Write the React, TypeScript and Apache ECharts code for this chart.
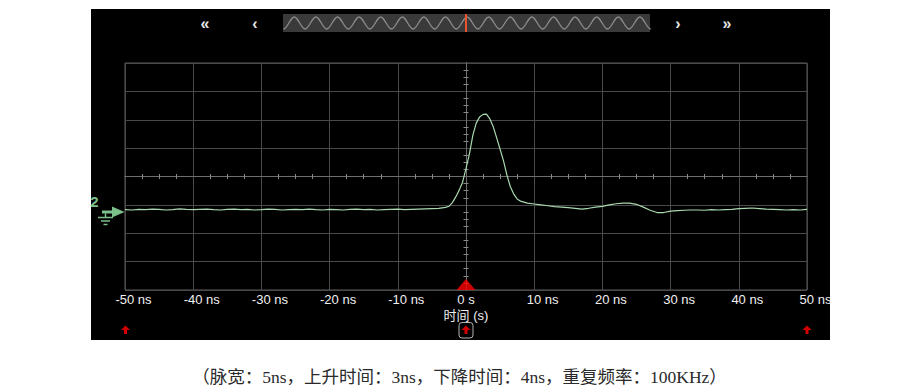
import React, { useEffect, useRef } from "react";
import * as echarts from "echarts";

// time axis (ns) of the captured trace
const timeNs = [
  -50, -49, -48, -47, -46, -45, -44, -43, -42, -41,
  -40, -39, -38, -37, -36, -35, -34, -33, -32, -31,
  -30, -29, -28, -27, -26, -25, -24, -23, -22, -21,
  -20, -19, -18, -17, -16, -15, -14, -13, -12, -11,
  -10, -9, -8, -7, -6, -5, -4, -3, -2.5, -2,
  -1.5, -1, -0.5, 0, 0.5, 1, 1.5, 2, 2.5, 3,
  3.5, 4, 4.5, 5, 5.5, 6, 6.5, 7, 7.5, 8,
  9, 10, 11, 12, 13, 14, 15, 16, 17, 18,
  19, 20, 21, 22, 23, 24, 25, 26, 27, 28,
  29, 30, 31, 32, 33, 34, 35, 36, 37, 38,
  39, 40, 41, 42, 43, 44, 45, 46, 47, 48,
  49, 50,
];

// trace amplitude in vertical divisions
const traceDiv = [
  -1.17, -1.18, -1.16, -1.17, -1.15, -1.16, -1.18, -1.17, -1.14, -1.16,
  -1.17, -1.16, -1.15, -1.17, -1.18, -1.16, -1.15, -1.17, -1.16, -1.18,
  -1.17, -1.15, -1.16, -1.18, -1.17, -1.16, -1.17, -1.15, -1.17, -1.18,
  -1.16, -1.17, -1.18, -1.16, -1.15, -1.17, -1.16, -1.18, -1.17, -1.16,
  -1.15, -1.17, -1.16, -1.15, -1.14, -1.13, -1.12, -1.09, -1.05, -0.92,
  -0.72, -0.48, -0.2, 0.28, 0.8, 1.45, 1.88, 2.1, 2.19, 2.2,
  2.03, 1.75, 1.36, 0.96, 0.55, 0.05, -0.36, -0.62, -0.79, -0.87,
  -0.94, -0.97, -1.0, -1.03, -1.06, -1.08, -1.1, -1.12, -1.15, -1.12,
  -1.08, -1.05, -1.0, -0.96, -0.94, -0.94, -0.98, -1.08, -1.19, -1.27,
  -1.27, -1.22, -1.2, -1.19, -1.18, -1.18, -1.19, -1.17, -1.18, -1.17,
  -1.16, -1.13, -1.12, -1.11, -1.13, -1.15, -1.16, -1.17, -1.18, -1.17,
  -1.18, -1.16,
];

const timeUnit = "ns";
const zeroLabel = "0 s";
const xAxisName = "时间 (s)";
const channelLabel = "2";
const triggerPoint = [[0, -4]];
const caption = "（脉宽：5ns，上升时间：3ns，下降时间：4ns，重复频率：100KHz）";

const WAVE_D = "M0,6" + " c3.9,0 6.9,-12 10.8,-12 s6.9,12 10.8,12".repeat(17);
let shapesRegistered = false;
function registerShapes() {
  if (shapesRegistered) return;
  echarts.graphic.registerShape("navWave", echarts.graphic.extendPath(WAVE_D, {}) as any);
  shapesRegistered = true;
}

const SANS = "'Liberation Sans', 'Noto Sans CJK SC', sans-serif";
const LABEL_COLOR = "#f0f0f0";
const GREEN = "#7cc08c";

function redArrow(cx: number, cy: number) {
  return {
    type: "polygon",
    silent: true,
    shape: {
      points: [
        [cx, cy - 4.5],
        [cx + 4.5, cy],
        [cx + 1.5, cy],
        [cx + 1.5, cy + 4],
        [cx - 1.5, cy + 4],
        [cx - 1.5, cy],
        [cx - 4.5, cy],
      ],
    },
    style: { fill: "#d40000" },
  };
}

export default function App() {
  const ref = useRef<HTMLDivElement>(null);

  useEffect(() => {
    if (!ref.current) return;
    registerShapes();
    const chart = echarts.init(ref.current, undefined, { renderer: "svg" });

    const gridBox = { left: 125, top: 63, width: 682, height: 227 };
    const centerX = (gridIndex: number, inside: boolean) => ({
      gridIndex,
      type: "value",
      min: -50,
      max: 50,
      interval: 10,
      axisLine: { show: true, onZero: true, lineStyle: { color: "#6e6e6e", width: 1 } },
      axisTick: { show: false, inside },
      minorTick: { show: true, splitNumber: 4, length: 2.5, lineStyle: { color: "#8a8a8a", width: 1 } },
      axisLabel: { show: false },
      splitLine: { show: false },
    });
    const centerY = (gridIndex: number, inside: boolean) => ({
      gridIndex,
      type: "value",
      min: -4,
      max: 4,
      interval: 1,
      axisLine: { show: true, onZero: true, lineStyle: { color: "#6e6e6e", width: 1 } },
      axisTick: { show: false, inside },
      minorTick: { show: true, splitNumber: 4, length: 2.5, lineStyle: { color: "#8a8a8a", width: 1 } },
      axisLabel: { show: false },
      splitLine: { show: false },
    });

    const option: any = {
      animation: false,
      backgroundColor: "transparent",
      grid: [
        { ...gridBox, show: true, borderColor: "#5c5c5c", borderWidth: 1, backgroundColor: "transparent" },
        { ...gridBox },
        { ...gridBox },
      ],
      xAxis: [
        {
          gridIndex: 0,
          type: "value",
          min: -50,
          max: 50,
          interval: 10,
          position: "bottom",
          axisLine: { show: false, onZero: false },
          axisTick: { show: false },
          splitLine: { show: true, lineStyle: { color: "#4a4a4a", width: 1 } },
          axisLabel: {
            show: true,
            margin: 3,
            showMinLabel: true,
            showMaxLabel: true,
            color: LABEL_COLOR,
            fontSize: 13,
            fontFamily: SANS,
            formatter: (v: number) => (v === 0 ? `{z|${zeroLabel}}` : `{n|${v} ${timeUnit}}`),
            rich: {
              n: { padding: [0, 0, 0, 17], color: LABEL_COLOR, fontSize: 13, fontFamily: SANS },
              z: { color: LABEL_COLOR, fontSize: 13, fontFamily: SANS },
            },
          },
          name: xAxisName,
          nameLocation: "middle",
          nameGap: 18,
          nameMoveOverlap: false,
          nameTextStyle: { color: LABEL_COLOR, fontSize: 13, fontFamily: SANS, verticalAlign: "top", lineHeight: 14 },
        },
        centerX(1, false),
        centerX(2, true),
      ],
      yAxis: [
        {
          gridIndex: 0,
          type: "value",
          min: -4,
          max: 4,
          interval: 1,
          axisLine: { show: false, onZero: false },
          axisTick: { show: false },
          axisLabel: { show: false },
          splitLine: { show: true, lineStyle: { color: "#4a4a4a", width: 1 } },
        },
        centerY(1, false),
        centerY(2, true),
      ],
      series: [
        {
          type: "line",
          xAxisIndex: 0,
          yAxisIndex: 0,
          data: timeNs.map((t, i) => [t, traceDiv[i]]),
          showSymbol: false,
          symbol: "none",
          silent: true,
          z: 4,
          lineStyle: { color: "#a8d8ae", width: 1.2 },
        },
        {
          type: "scatter",
          xAxisIndex: 0,
          yAxisIndex: 0,
          data: triggerPoint,
          symbol: "triangle",
          symbolSize: [19, 11],
          symbolOffset: [0, -5.5],
          clip: false,
          silent: true,
          z: 5,
          itemStyle: { color: "#ff0000" },
        },
      ],
      graphic: [
        // navigator bar
        { type: "rect", silent: true, shape: { x: 283, y: 14, width: 367, height: 18 }, style: { fill: "#3a3a3a" } },
        { type: "navWave", silent: true, x: 283.5, y: 23, style: { fill: "none", stroke: "#8c8c8c", lineWidth: 1.3 } },
        { type: "line", silent: true, shape: { x1: 466, y1: 14, x2: 466, y2: 32 }, style: { stroke: "#e8532b", lineWidth: 2 } },
        ...[
          ["«", 205],
          ["‹", 255],
          ["›", 678],
          ["»", 727],
        ].map(([t, x]) => ({
          type: "text",
          silent: true,
          x: x as number,
          y: 23,
          style: {
            text: t as string,
            fill: "#e6e6e6",
            fontSize: 16,
            fontFamily: SANS,
            fontWeight: "bold",
            align: "center",
            verticalAlign: "middle",
          },
        })),
        // channel marker
        {
          type: "text",
          silent: true,
          x: 94.5,
          y: 201,
          style: { text: channelLabel, fill: GREEN, fontSize: 15, fontWeight: "bold", fontFamily: SANS, align: "center", verticalAlign: "middle" },
        },
        {
          type: "polygon",
          silent: true,
          shape: { points: [[102, 210.5], [112, 210.5], [112, 206.5], [124.5, 212], [112, 217.5], [112, 213.5], [102, 213.5]] },
          style: { fill: GREEN },
        },
        { type: "line", silent: true, shape: { x1: 105.5, y1: 213.5, x2: 105.5, y2: 217.5 }, style: { stroke: GREEN, lineWidth: 1.5 } },
        { type: "line", silent: true, shape: { x1: 98, y1: 217.5, x2: 113, y2: 217.5 }, style: { stroke: GREEN, lineWidth: 1.5 } },
        { type: "line", silent: true, shape: { x1: 101, y1: 221, x2: 110, y2: 221 }, style: { stroke: GREEN, lineWidth: 1.5 } },
        { type: "line", silent: true, shape: { x1: 103.5, y1: 224.5, x2: 107.5, y2: 224.5 }, style: { stroke: GREEN, lineWidth: 1.5 } },
        // bottom markers
        redArrow(125.5, 330),
        redArrow(466, 330),
        redArrow(807, 330),
        {
          type: "rect",
          silent: true,
          shape: { x: 459, y: 322.5, width: 14, height: 15.5, r: 3 },
          style: { fill: "none", stroke: "#b4b4b4", lineWidth: 1 },
        },
        // caption
        {
          type: "text",
          silent: true,
          x: 459.5,
          y: 377,
          style: {
            text: caption,
            fill: "#2a2a2a",
            fontSize: 17.5,
            fontFamily: "'Liberation Serif', 'Noto Sans CJK SC', serif",
            align: "center",
            verticalAlign: "middle",
          },
        },
      ],
    };

    chart.setOption(option);
    return () => {
      chart.dispose();
    };
  }, []);

  return (
    <div style={{ position: "fixed", left: 0, top: 0, width: 916, height: 391, background: "#ffffff", overflow: "hidden" }}>
      <div style={{ position: "absolute", left: 91, top: 9, width: 739, height: 331, background: "#000000" }} />
      <div ref={ref} style={{ position: "absolute", left: 0, top: 0, width: 916, height: 391 }} />
    </div>
  );
}
